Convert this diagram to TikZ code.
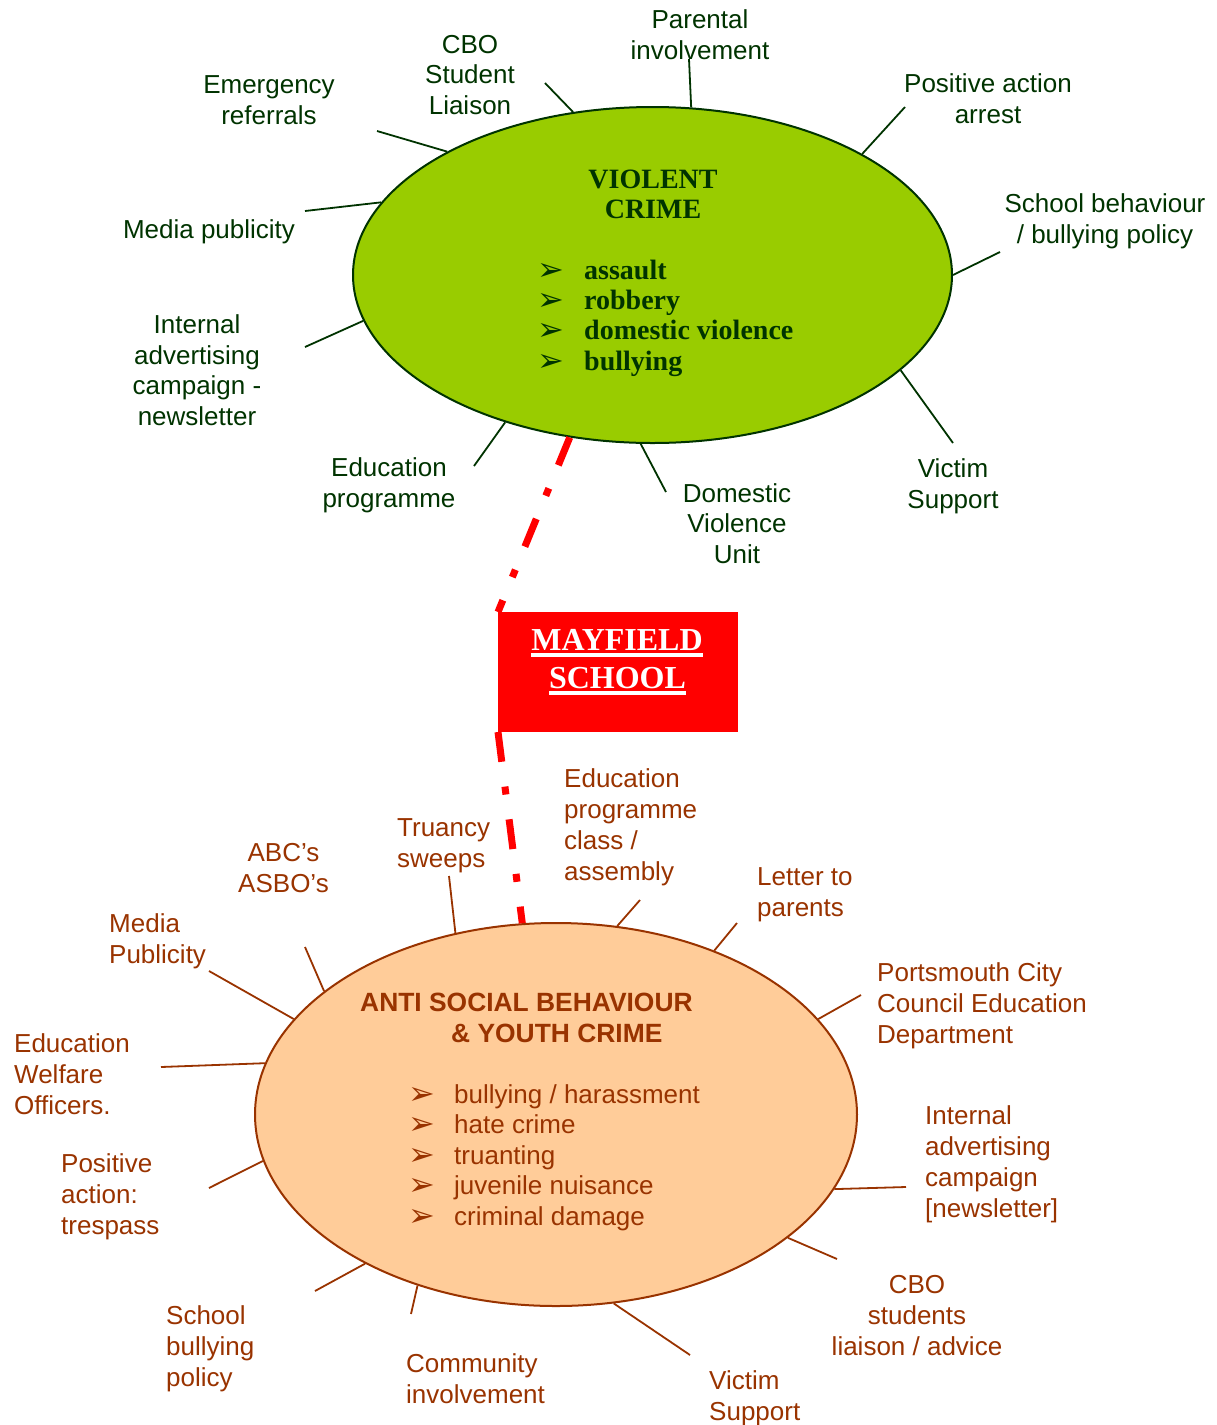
\documentclass[tikz,border=0pt]{standalone}
\usepackage{fontspec}
\setmainfont{Liberation Sans}
\newfontfamily\serifb{Liberation Serif}
\newfontfamily\dingf{DejaVu Sans}
\usetikzlibrary{shapes.geometric}
\definecolor{vgreen}{HTML}{99CC00}
\definecolor{dgreen}{HTML}{003300}
\definecolor{peach}{HTML}{FFCC99}
\definecolor{asb}{HTML}{993300}
\newcommand{\gbul}{\makebox[47pt][l]{\raisebox{-1pt}{\dingf\fontsize{32}{32}\selectfont\color{dgreen}➢}}}
\newcommand{\obul}{\makebox[46pt][l]{\raisebox{-1pt}{\dingf\fontsize{32}{32}\selectfont\color{asb}➢}}}
\begin{document}
\begin{tikzpicture}[x=1pt,y=-1pt,
  gl/.style={font=\fontsize{26}{30.5}\selectfont, text=dgreen, inner sep=0, align=center, anchor=base},
  ol/.style={font=\fontsize{26}{30.7}\selectfont, text=asb, inner sep=0, align=left, anchor=base west},
  oc/.style={ol, align=center, anchor=base},
  gline/.style={draw=dgreen, line width=1.8pt},
  oline/.style={draw=asb, line width=1.8pt},
  link/.style={draw=red, line width=7pt, dash pattern=on 30pt off 25pt on 8pt off 25pt}]
\useasboundingbox (0,0) rectangle (1217,1425);

% ellipses
\node[ellipse, draw=dgreen, fill=vgreen, line width=2pt, minimum width=599pt, minimum height=336pt, inner sep=0] (ve) at (652.5,275) {};
\node[ellipse, draw=asb, fill=peach, line width=2pt, minimum width=602pt, minimum height=383pt, inner sep=0] (ae) at (556,1114.5) {};

% school box
\node[fill=red, minimum width=240pt, minimum height=120pt, inner sep=0, outer sep=0] (school) at (618,672) {};

% dashed links
\draw[link] (ve.243.7) -- (school.north west);
\draw[link] (school.south west) -- (ae.100);

\node[font=\serifb\bfseries\fontsize{32}{38}\selectfont, text=white, inner sep=0, anchor=base] (mf) at (617,650) {MAYFIELD};
\node[font=\serifb\bfseries\fontsize{32}{38}\selectfont, text=white, inner sep=0, anchor=base] (sc) at (617.5,688) {SCHOOL};
\fill[white] ([yshift=-3pt]mf.base west) rectangle ([yshift=-7pt]mf.base east);
\fill[white] ([yshift=-3pt]sc.base west) rectangle ([yshift=-7pt]sc.base east);

% green ellipse text (base anchor = baseline of last line)
\node[font=\serifb\bfseries\fontsize{28}{29.5}\selectfont, text=dgreen, align=center, anchor=base, inner sep=0] (vt) at (653,218) {VIOLENT\\CRIME};
\node[font=\serifb\bfseries\fontsize{28}{30.3}\selectfont, text=dgreen, align=left, anchor=base west, inner sep=0] (vl) at (537,370) {\gbul assault\\\gbul robbery\\\gbul domestic violence\\\gbul bullying};

% orange ellipse text
\node[font=\bfseries\fontsize{26.4}{31}\selectfont, text=asb, align=left, anchor=base west, inner sep=0] (at) at (360,1042) {ANTI SOCIAL BEHAVIOUR\\\hspace*{91pt}\& YOUTH CRIME};
\node[font=\fontsize{26}{30.5}\selectfont, text=asb, align=left, anchor=base west, inner sep=0] (al) at (408,1225) {\obul bullying / harassment\\\obul hate crime\\\obul truanting\\\obul juvenile nuisance\\\obul criminal damage};

% green labels
\node[gl] (g1) at (700,59) {Parental\\involvement};
\node[gl] (g2) at (470,114) {CBO\\Student\\Liaison};
\node[gl] (g3) at (269,124) {Emergency\\referrals};
\node[gl] (g4) at (209,238) {Media publicity};
\node[gl] (g5) at (197,425) {Internal\\advertising\\campaign -\\newsletter};
\node[gl] (g6) at (389,507) {Education\\programme};
\node[gl] (g7) at (737,563) {Domestic\\Violence\\Unit};
\node[gl] (g8) at (953,508) {Victim\\Support};
\node[gl] (g9) at (1105,243) {School behaviour\\/ bullying policy};
\node[gl] (g10) at (988,123) {Positive action\\arrest};

\coordinate (gc1) at (689,59);
\coordinate (gc2) at (545,83);
\coordinate (gc3) at (377,131);
\coordinate (gc4) at (305,211);
\coordinate (gc5) at (305,347);
\coordinate (gc6) at (474,466);
\coordinate (gc7) at (666,492);
\coordinate (gc8) at (953,443);
\coordinate (gc9) at (1000,252);
\coordinate (gc10) at (905,107);
\draw[gline] (gc1) -- (ve.77.7);
\draw[gline] (gc2) -- (ve.116.3);
\draw[gline] (gc3) -- (ve.149.3);
\draw[gline] (gc4) -- (ve.165.4);
\draw[gline] (gc5) -- (ve.189.8);
\draw[gline] (gc6) -- (ve.225.5);
\draw[gline] (gc7) -- (ve.266.4);
\draw[gline] (gc8) -- (ve.339.1);
\draw[gline] (gc9) -- (ve.0);
\draw[gline] (gc10) -- (ve.30.1);

% orange labels
\node[ol] (o1) at (397,867) {Truancy\\sweeps};
\node[oc] (o2) at (283.5,892) {ABC’s\\ASBO’s};
\node[ol] (o3) at (109,963) {Media\\Publicity};
\node[ol] (o4) at (14,1114) {Education\\Welfare\\Officers.};
\node[ol] (o5) at (61,1234) {Positive\\action:\\trespass};
\node[ol] (o6) at (166,1386) {School\\bullying\\policy};
\node[ol] (o7) at (406,1403) {Community\\involvement};
\node[ol] (o8) at (709,1420) {Victim\\Support};
\node[oc] (o9) at (917,1355) {CBO\\students\\liaison / advice};
\node[ol] (o10) at (925,1217) {Internal\\advertising\\campaign\\{[newsletter]}};
\node[ol] (o11) at (877,1043) {Portsmouth City\\Council Education\\Department};
\node[ol] (o12) at (757,916.5) {Letter to\\parents};
\node[ol] (o13) at (564,880) {Education\\programme\\class /\\assembly};

\coordinate (oc1) at (449,876);
\coordinate (oc2) at (305,947);
\coordinate (oc3) at (209,971);
\coordinate (oc4) at (161,1067);
\coordinate (oc5) at (209,1188);
\coordinate (oc6) at (315,1291);
\coordinate (oc7) at (411,1314);
\coordinate (oc8) at (690,1355);
\coordinate (oc9) at (837,1259);
\coordinate (oc10) at (906,1187);
\coordinate (oc11) at (861,995);
\coordinate (oc12) at (737,923);
\coordinate (oc13) at (640,900);
\draw[oline] (oc1) -- (ae.119.2);
\draw[oline] (oc2) -- (ae.152.3);
\draw[oline] (oc3) -- (ae.160.6);
\draw[oline] (oc4) -- (ae.170.9);
\draw[oline] (oc5) -- (ae.189.3);
\draw[oline] (oc6) -- (ae.218.1);
\draw[oline] (oc7) -- (ae.231.4);
\draw[oline] (oc8) -- (ae.287.6);
\draw[oline] (oc9) -- (ae.332.3);
\draw[oline] (oc10) -- (ae.345.3);
\draw[oline] (oc11) -- (ae.20.8);
\draw[oline] (oc12) -- (ae.46.7);
\draw[oline] (oc13) -- (ae.72.2);
\end{tikzpicture}
\end{document}
